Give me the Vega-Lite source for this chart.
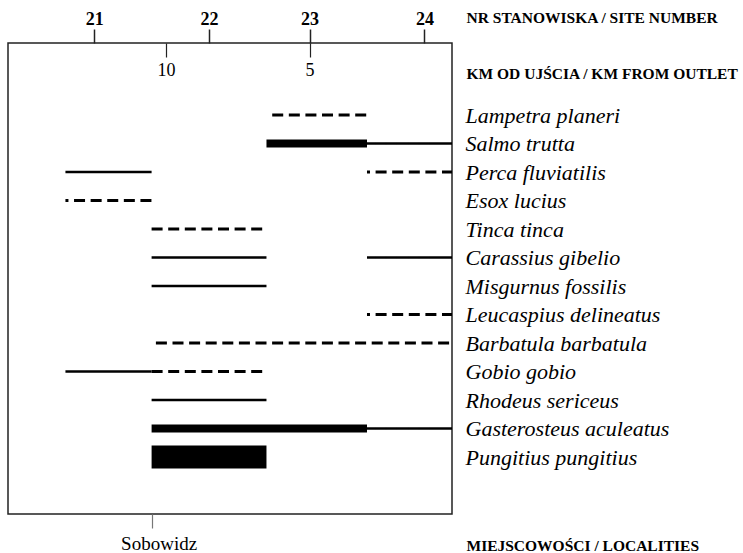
{
  "$schema": "https://vega.github.io/schema/vega-lite/v6.json",
  "width": 444,
  "height": 471,
  "autosize": {"type": "none"},
  "padding": {"left": 8, "top": 43, "right": 291, "bottom": 39},
  "background": "white",
  "config": {
    "view": {"stroke": "#222", "strokeWidth": 1.5},
    "font": "Liberation Serif",
    "axis": {"grid": false, "labelColor": "#000", "titleColor": "#000"}
  },
  "data": {
    "values": [
      {"species": "Lampetra planeri", "from": 6.3, "to": 3.0, "status": "sporadic"},
      {"species": "Salmo trutta", "from": 6.5, "to": 3.0, "status": "frequent"},
      {"species": "Salmo trutta", "from": 3.0, "to": 0.04, "status": "rare"},
      {"species": "Perca fluviatilis", "from": 13.5, "to": 10.5, "status": "rare"},
      {"species": "Perca fluviatilis", "from": 3.0, "to": 0.04, "status": "single"},
      {"species": "Esox lucius", "from": 13.5, "to": 10.5, "status": "single"},
      {"species": "Tinca tinca", "from": 10.5, "to": 6.5, "status": "sporadic"},
      {"species": "Carassius gibelio", "from": 10.5, "to": 6.5, "status": "rare"},
      {"species": "Carassius gibelio", "from": 3.0, "to": 0.04, "status": "rare"},
      {"species": "Misgurnus fossilis", "from": 10.5, "to": 6.5, "status": "rare"},
      {"species": "Leucaspius delineatus", "from": 3.0, "to": 0.04, "status": "single"},
      {"species": "Barbatula barbatula", "from": 10.35, "to": 0.04, "status": "sporadic"},
      {"species": "Gobio gobio", "from": 13.5, "to": 10.5, "status": "rare"},
      {"species": "Gobio gobio", "from": 10.5, "to": 6.5, "status": "sporadic"},
      {"species": "Rhodeus sericeus", "from": 10.5, "to": 6.5, "status": "rare"},
      {"species": "Gasterosteus aculeatus", "from": 10.5, "to": 3.0, "status": "frequent"},
      {"species": "Gasterosteus aculeatus", "from": 3.0, "to": 0.04, "status": "rare"},
      {"species": "Pungitius pungitius", "from": 10.5, "to": 6.5, "status": "abundant"}
    ]
  },
  "resolve": {"axis": {"x": "independent"}},
  "layer": [
    {
      "mark": {"type": "rule", "strokeCap": "butt", "color": "#000"},
      "encoding": {
        "y": {
          "field": "species",
          "type": "nominal",
          "sort": null,
          "scale": {"type": "point", "range": [72, 414], "padding": 0},
          "axis": {
            "orient": "right",
            "title": null,
            "domain": false,
            "ticks": false,
            "labelPadding": 13,
            "labelFont": "Liberation Serif",
            "labelFontStyle": "italic",
            "labelFontSize": 22,
            "labelLimit": 0,
            "labelAlign": "left",
            "labelBaseline": "middle"
          }
        },
        "x": {
          "field": "from",
          "type": "quantitative",
          "scale": {"domain": [15.5, 0.04], "nice": false, "zero": false},
          "axis": {
            "orient": "top",
            "values": [12.5, 8.5, 5, 1],
            "labelExpr": "datum.value == 12.5 ? '21' : datum.value == 8.5 ? '22' : datum.value == 5 ? '23' : '24'",
            "domain": false,
            "tickSize": 14,
            "tickColor": "#222",
            "tickWidth": 1.5,
            "labelPadding": 1,
            "labelFont": "Liberation Serif",
            "labelFontWeight": "bold",
            "labelFontSize": 18,
            "labelAngle": 0,
            "labelFlush": false,
            "title": "NR STANOWISKA / SITE NUMBER",
            "titleFont": "Liberation Serif",
            "titleFontWeight": "bold",
            "titleFontSize": 15.5,
            "titleAnchor": "start",
            "titleAlign": "left",
            "titleBaseline": "middle",
            "titleAngle": 0,
            "titleX": 458,
            "titleY": -26
          }
        },
        "x2": {"field": "to"},
        "size": {
          "field": "status",
          "type": "nominal",
          "scale": {
            "type": "ordinal",
            "domain": ["abundant", "frequent", "rare", "sporadic", "single"],
            "range": [23, 8, 2.5, 3, 3]
          },
          "legend": null
        },
        "strokeDash": {
          "field": "status",
          "type": "nominal",
          "scale": {
            "domain": ["abundant", "frequent", "rare", "sporadic", "single"],
            "range": [[1, 0], [1, 0], [1, 0], [11, 5.6], [3, 5.6, 11, 5.6, 11, 5.6, 11, 5.6, 11, 5.6, 11, 5.6, 11, 5.6]]
          },
          "legend": null
        }
      }
    },
    {
      "mark": {"type": "rule", "opacity": 0},
      "encoding": {
        "x": {
          "datum": 10,
          "type": "quantitative",
          "axis": {
            "orient": "bottom",
            "offset": -471,
            "values": [10, 5],
            "format": "d",
            "domain": false,
            "tickSize": 14,
            "tickColor": "#222",
            "tickWidth": 1.2,
            "labelPadding": 4,
            "labelFont": "Liberation Serif",
            "labelFontSize": 18,
            "labelFlush": false,
            "title": "KM OD UJŚCIA / KM FROM OUTLET",
            "titleFont": "Liberation Serif",
            "titleFontWeight": "bold",
            "titleFontSize": 15.5,
            "titleAnchor": "start",
            "titleAlign": "left",
            "titleBaseline": "middle",
            "titleAngle": 0,
            "titleX": 458,
            "titleY": 30
          }
        },
        "y": {"datum": "Lampetra planeri", "type": "nominal"}
      }
    },
    {
      "mark": {"type": "rule", "opacity": 0},
      "encoding": {
        "x": {
          "datum": 10.5,
          "type": "quantitative",
          "axis": {
            "orient": "bottom",
            "values": [10.5],
            "labelExpr": "'Sobowidz'",
            "domain": false,
            "tickSize": 14,
            "tickColor": "#777",
            "tickWidth": 1.2,
            "labelPadding": 6,
            "labelOffset": 7,
            "labelFont": "Liberation Serif",
            "labelFontSize": 19,
            "labelFlush": false,
            "title": "MIEJSCOWOŚCI / LOCALITIES",
            "titleFont": "Liberation Serif",
            "titleFontWeight": "bold",
            "titleFontSize": 15.5,
            "titleAnchor": "start",
            "titleAlign": "left",
            "titleBaseline": "middle",
            "titleAngle": 0,
            "titleX": 458,
            "titleY": 31
          }
        },
        "y": {"datum": "Lampetra planeri", "type": "nominal"}
      }
    }
  ]
}
